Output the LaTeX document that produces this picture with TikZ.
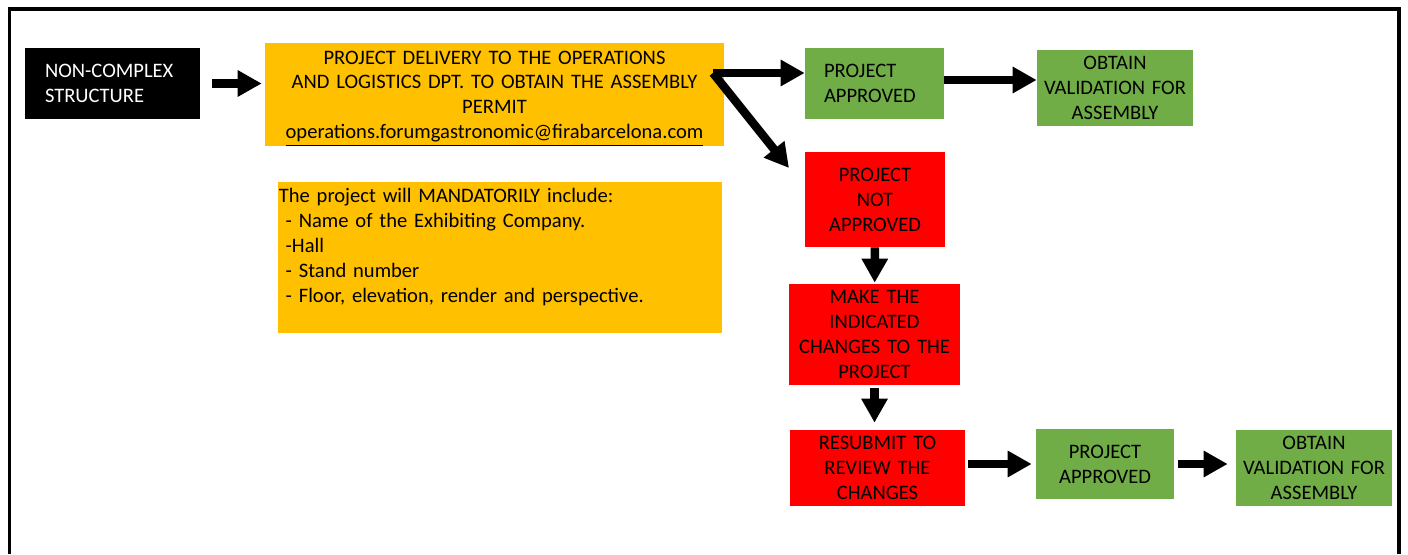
\documentclass[tikz,border=0pt]{standalone}
\usepackage{fontspec}
\setmainfont{Carlito}
\usetikzlibrary{arrows.meta}
\definecolor{orng}{HTML}{FFC000}
\definecolor{grn}{HTML}{70AD47}
\definecolor{rd}{HTML}{FF0000}

\begin{document}
\begin{tikzpicture}[x=0.02cm,y=-0.02cm,
    box/.style={inner sep=0pt,align=center,font=\fontsize{11.7}{14.2}\selectfont},
    okbox/.style={box,fill=grn},
    nobox/.style={box,fill=rd},
    bigarrow/.style={line width=0.17cm,-{Triangle[length=0.48cm,width=0.5cm]}}]
  \useasboundingbox (0,0) rectangle (1408,554);
  \draw[line width=0.08cm] (9.5,554) -- (9.5,9.5) -- (1399,9.5) -- (1399,554);

  \node[box,fill=black,text=white,minimum width=3.5cm,minimum height=1.42cm,text width=2.7cm,align=left] (1) at (112.5,83.5) {NON-COMPLEX\\STRUCTURE};
  \node[box,fill=orng,minimum width=9.18cm,minimum height=2.02cm,text width=9.1cm] (2) at (494.5,94.5) {\rule{0pt}{0.42cm}PROJECT DELIVERY TO THE OPERATIONS\\AND LOGISTICS DPT. TO OBTAIN THE ASSEMBLY\\PERMIT\\\underline{operations.forumgastronomic@firabarcelona.com}};
  \node[box,fill=orng,anchor=north west,minimum width=8.88cm,minimum height=3.02cm,text width=8.86cm,align=left] (10) at (278,182) {The project will MANDATORILY include:\\\ - Name of the Exhibiting Company.\\\ -Hall\\\ - Stand number\\\ - Floor, elevation, render and perspective.\\\mbox{}};

  \node[okbox,minimum width=2.78cm,minimum height=1.42cm,text width=2.02cm,align=left] (3) at (874.5,83.5) {PROJECT\\APPROVED};
  \node[okbox,minimum width=3.12cm,minimum height=1.52cm,text width=3.05cm] (4) at (1115,88) {OBTAIN\\VALIDATION FOR\\ASSEMBLY};
  \node[nobox,minimum width=2.8cm,minimum height=1.9cm,text width=2.7cm] (5) at (875,199.5) {PROJECT\\NOT\\APPROVED};
  \node[nobox,minimum width=3.42cm,minimum height=2.02cm,text width=3.35cm] (6) at (874.5,334.5) {MAKE THE\\INDICATED\\CHANGES TO THE\\PROJECT};
  \node[nobox,minimum width=3.5cm,minimum height=1.52cm,text width=3.4cm] (7) at (877.5,468) {RESUBMIT TO\\REVIEW THE\\CHANGES};
  \node[okbox,minimum width=2.76cm,minimum height=1.4cm,text width=2.66cm] (8) at (1105,464) {PROJECT\\APPROVED};
  \node[okbox,minimum width=3.12cm,minimum height=1.52cm,text width=3.05cm] (9) at (1314,468) {OBTAIN\\VALIDATION FOR\\ASSEMBLY};

  \coordinate (s) at (713,73);
  \coordinate (d) at (789,168);

  \draw[bigarrow,shorten <=0.24cm,shorten >=0.06cm] (1.east) -- (1.east -| 2.west);
  \draw[bigarrow] (s) -- (s -| 3.west);
  \draw[bigarrow] (s) -- (d);
  \draw[bigarrow] ([yshift=0.07cm]3.east) -- ([yshift=0.07cm]3.east -| 4.west);
  \draw[bigarrow,shorten >=0.02cm] (5) -- (6);
  \draw[bigarrow,shorten <=0.06cm,shorten >=0.14cm] (6.south) -- (6.south |- 7.north);
  \draw[bigarrow,shorten <=0.06cm,shorten >=0.08cm] (7.east |- 8) -- (8.west);
  \draw[bigarrow,shorten <=0.08cm,shorten >=0.16cm] (8.east) -- (8.east -| 9.west);
\end{tikzpicture}
\end{document}
